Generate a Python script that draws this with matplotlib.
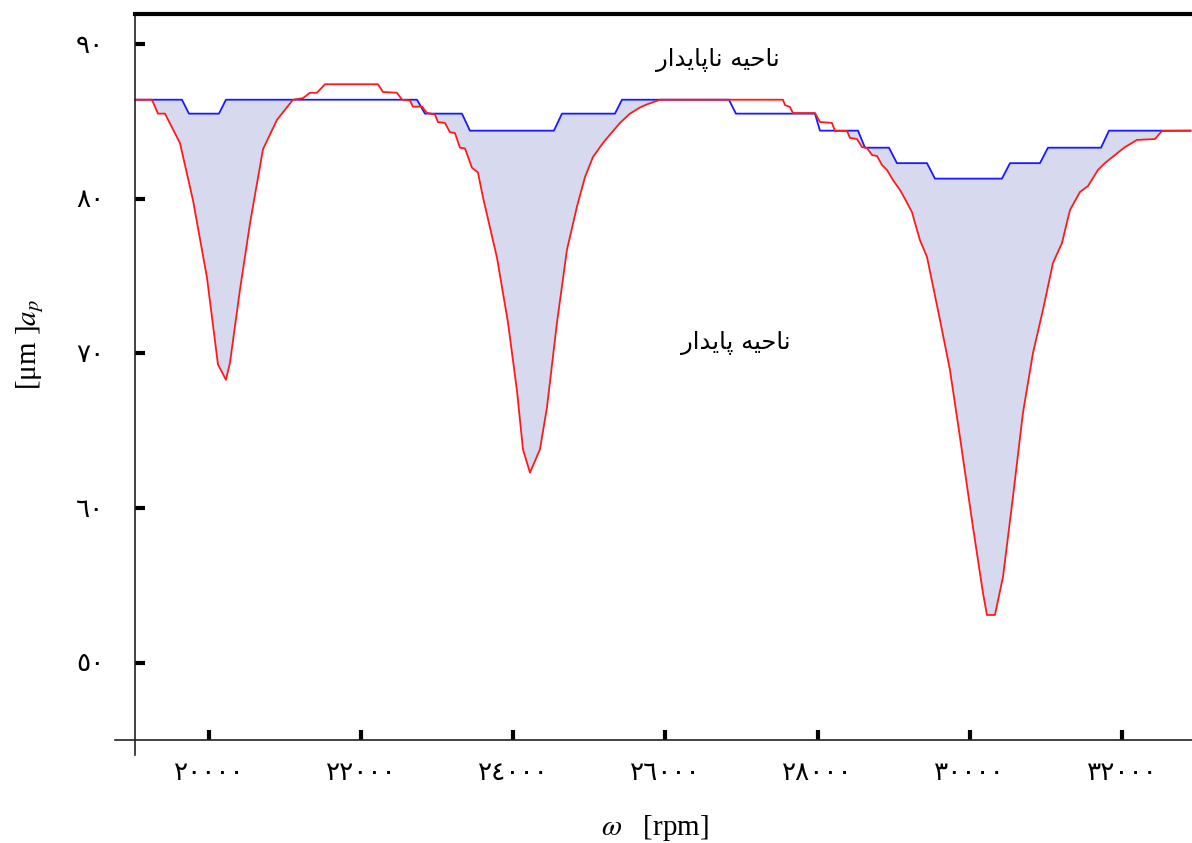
import matplotlib
matplotlib.use("Agg")
import matplotlib.pyplot as plt
import numpy as np

# --- data (rpm, a_p in um) ---
blue_rpm = [19027, 19645, 19737, 20131, 20223, 22734, 22839, 23325, 23430, 24534,
            24639, 25336, 25428, 26834, 26926, 27965, 28030, 28530, 28622, 28937,
            29042, 29437, 29542, 30422, 30528, 30922, 31027, 31724, 31829, 32900]
blue_ap = [86.4, 86.4, 85.5, 85.5, 86.4, 86.4, 85.5, 85.5, 84.4, 84.4,
           85.5, 85.5, 86.4, 86.4, 85.5, 85.5, 84.4, 84.4, 83.3, 83.3,
           82.3, 82.3, 81.3, 81.3, 82.3, 82.3, 83.3, 83.3, 84.4, 84.4]

red_rpm = [19027, 19251, 19330, 19422, 19619, 19790, 19974, 20118, 20223, 20276,
           20407, 20539, 20710, 20894, 21104, 21235, 21327, 21419, 21525, 22221,
           22287, 22471, 22537, 22642, 22681, 22800, 22865, 22970, 23010, 23102,
           23167, 23233, 23299, 23365, 23457, 23535, 23601, 23785, 23930, 24048,
           24127, 24219, 24350, 24442, 24574, 24705, 24837, 24942, 25047, 25178,
           25297, 25402, 25533, 25665, 25757, 25928, 27544, 27570, 27636, 27675,
           27965, 28030, 28188, 28228, 28385, 28425, 28517, 28583, 28648, 28714,
           28780, 28846, 28911, 28990, 29082, 29147, 29239, 29344, 29437, 29608,
           29739, 29870, 30041, 30173, 30225, 30330, 30436, 30567, 30698, 30830,
           30961, 31093, 31211, 31316, 31448, 31553, 31684, 31776, 31908, 32039,
           32197, 32433, 32525, 32900]
red_ap = [86.4, 86.4, 85.5, 85.5, 83.6, 79.9, 74.9, 69.3, 68.3, 69.4,
          74.1, 78.4, 83.2, 85.1, 86.4, 86.5, 86.85, 86.85, 87.4, 87.4,
          86.9, 86.85, 86.4, 86.35, 85.95, 85.95, 85.55, 85.45, 84.95, 84.9,
          84.3, 84.25, 83.3, 83.25, 82.0, 81.7, 80.1, 76.2, 72.0, 67.6,
          63.8, 62.3, 63.8, 66.5, 72.0, 76.7, 79.5, 81.4, 82.7, 83.6,
          84.3, 84.9, 85.5, 85.9, 86.1, 86.4, 86.4, 86.06, 85.93, 85.54,
          85.54, 84.96, 84.9, 84.38, 84.38, 83.93, 83.86, 83.34, 83.28, 82.83,
          82.76, 82.18, 81.86, 81.21, 80.57, 80.0, 79.14, 77.33, 76.24, 72.16,
          68.93, 64.6, 58.79, 54.52, 53.1, 53.1, 55.56, 60.73, 66.15, 70.03,
          72.81, 75.85, 77.14, 79.27, 80.44, 80.82, 81.86, 82.31, 82.83, 83.34,
          83.8, 83.86, 84.38, 84.4]

xticks = [20000, 22000, 24000, 26000, 28000, 30000, 32000]
yticks = [50, 60, 70, 80, 90]
label_unstable = "ناحیه ناپایدار"
label_stable = "ناحیه پایدار"

# presentation forms (isolated, final, initial, medial) so the Persian text joins up
FORMS = {
    "ا": ("\uFE8D", "\uFE8E", None, None),
    "پ": ("\uFB56", "\uFB57", "\uFB58", "\uFB59"),
    "ح": ("\uFEA1", "\uFEA2", "\uFEA3", "\uFEA4"),
    "د": ("\uFEA9", "\uFEAA", None, None),
    "ر": ("\uFEAD", "\uFEAE", None, None),
    "ن": ("\uFEE5", "\uFEE6", "\uFEE7", "\uFEE8"),
    "ه": ("\uFEE9", "\uFEEA", "\uFEEB", "\uFEEC"),
    "ی": ("\uFBFC", "\uFBFD", "\uFBFE", "\uFBFF"),
}


def shape_fa(text):
    out = []
    for i, c in enumerate(text):
        if c not in FORMS:
            out.append(c)
            continue
        prev = text[i - 1] if i > 0 else ""
        nxt = text[i + 1] if i + 1 < len(text) else ""
        joins_prev = prev in FORMS and FORMS[prev][2] is not None
        joins_next = FORMS[c][2] is not None and nxt in FORMS
        isol, fin, ini, med = FORMS[c]
        if joins_prev and joins_next:
            out.append(med)
        elif joins_prev:
            out.append(fin)
        elif joins_next:
            out.append(ini)
        else:
            out.append(isol)
    return "".join(out)[::-1]


def to_arabic_digits(n):
    return str(n).translate(str.maketrans("0123456789", "٠١٢٣٤٥٦٧٨٩"))


plt.rcParams["font.family"] = ["Liberation Serif", "DejaVu Sans"]
plt.rcParams["mathtext.fontset"] = "stix"

fig = plt.figure(figsize=(11.92, 8.43), dpi=100)
ax = fig.add_axes([115 / 1192, 1 - 755 / 843, 1 - 115 / 1192, (755 - 14) / 843])

x_b, y_b = np.array(blue_rpm), np.array(blue_ap)
x_r, y_r = np.array(red_rpm), np.array(red_ap)
xx = np.union1d(x_b, x_r)
yb = np.interp(xx, x_b, y_b)
yr = np.interp(xx, x_r, y_r)
ax.fill_between(xx, yr, yb, where=yr < yb, interpolate=True,
                color="#d7d9ee", linewidth=0)
ax.plot(x_b, y_b, color="#1a1aff", lw=1.3)
ax.plot(x_r, y_r, color="#ff1a1a", lw=1.3)

ax.set_xlim(18765, 32920)
ax.set_ylim(44.05, 91.94)

ax.spines["left"].set_position(("data", 19027))
ax.spines["bottom"].set_position(("data", 45))
ax.spines["right"].set_visible(False)
ax.spines["top"].set_linewidth(3)
ax.spines["top"].set_bounds(19027, 32920)
for s in ("left", "bottom"):
    ax.spines[s].set_linewidth(1.2)
    ax.spines[s].set_color("#222222")

ax.set_xticks(xticks)
ax.set_xticklabels([to_arabic_digits(t) for t in xticks])
ax.set_yticks(yticks)
ax.set_yticklabels([to_arabic_digits(t) for t in yticks])
ax.tick_params(axis="both", direction="in", length=7.5, width=3, labelsize=19)
ax.tick_params(axis="x", pad=16)
ax.tick_params(axis="y", pad=22)

ax.text(26690, 88.97, shape_fa(label_unstable), family="DejaVu Sans",
        fontsize=17.5, ha="center", va="center")
ax.text(26926, 70.68, shape_fa(label_stable), family="DejaVu Sans",
        fontsize=17.5, ha="center", va="center")

fig.text(655 / 1192, 1 - 828 / 843, r"$\omega$   [rpm]", fontsize=21,
         ha="center", va="center")
fig.text(30 / 1192, 1 - 344 / 843, r"[μm ]$a_p$", fontsize=21, rotation=90,
         ha="center", va="center")

fig.savefig("out.png", dpi=100)
